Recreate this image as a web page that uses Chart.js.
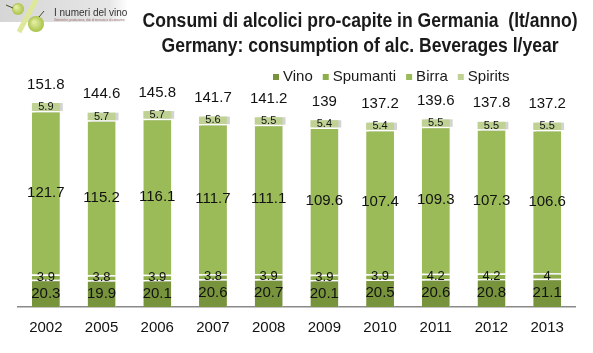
<!DOCTYPE html>
<html>
<head>
<meta charset="utf-8">
<script src="https://cdn.jsdelivr.net/npm/chart.js@4"></script>
<style>
  html, body { margin: 0; padding: 0; background: #fff; }
  #wrap { position: relative; width: 593px; height: 353px; }
</style>
</head>
<body>
<div id="wrap"><canvas id="chart" width="593" height="353"></canvas></div>
<script>
// dati: consumi pro-capite in Germania (lt/anno)
const years = ['2002', '2005', '2006', '2007', '2008', '2009', '2010', '2011', '2012', '2013'];
const vino = [20.3, 19.9, 20.1, 20.6, 20.7, 20.1, 20.5, 20.6, 20.8, 21.1];
const spumanti = [3.9, 3.8, 3.9, 3.8, 3.9, 3.9, 3.9, 4.2, 4.2, 4];
const birra = [121.7, 115.2, 116.1, 111.7, 111.1, 109.6, 107.4, 109.3, 107.3, 106.6];
const spirits = [5.9, 5.7, 5.7, 5.6, 5.5, 5.4, 5.4, 5.5, 5.5, 5.5];
const totali = [151.8, 144.6, 145.8, 141.7, 141.2, 139, 137.2, 139.6, 137.8, 137.2];

const titleLines = ['Consumi di alcolici pro-capite in Germania  (lt/anno)', 'Germany: consumption of alc. Beverages l/year'];
const FONT = '"Liberation Sans", Arial, sans-serif';
const labelSizes = [15, 13, 15, 11];

// logo in alto a sinistra
const logoPlugin = {
    id: 'logo',
    beforeDraw(chart) {
        const ctx = chart.ctx;
        ctx.save();
        const g = ctx.createLinearGradient(0, 0, 128, 0);
        g.addColorStop(0, '#d6d6d6');
        g.addColorStop(0.85, '#e6e6e6');
        g.addColorStop(1, '#ffffff');
        ctx.fillStyle = g;
        ctx.fillRect(0, 0, 128, 22);
        // tratto diagonale
        ctx.strokeStyle = '#dfe89a';
        ctx.lineWidth = 5;
        ctx.beginPath(); ctx.moveTo(37, -2); ctx.lineTo(19, 32); ctx.stroke();
        // acini
        [[18, 9, 6], [36, 24, 8]].forEach(([x, y, r]) => {
            const rg = ctx.createRadialGradient(x - 2, y - 2, 1, x, y, r);
            rg.addColorStop(0, '#e2eda0');
            rg.addColorStop(1, '#a9c24a');
            ctx.fillStyle = rg;
            ctx.beginPath(); ctx.arc(x, y, r, 0, Math.PI * 2); ctx.fill();
        });
        ctx.strokeStyle = '#4a4a2a';
        ctx.lineWidth = 1;
        ctx.beginPath(); ctx.moveTo(6, 5); ctx.lineTo(13, 8); ctx.stroke();
        ctx.beginPath(); ctx.moveTo(39, 17); ctx.lineTo(44, 11); ctx.stroke();
        ctx.fillStyle = '#333';
        ctx.font = '10px ' + FONT;
        ctx.textBaseline = 'alphabetic';
        ctx.fillText('I numeri del vino', 54, 16);
        ctx.fillStyle = '#9a6a6a';
        ctx.font = '3px ' + FONT;
        ctx.fillText('Statistiche, produzione, dati di mercato e di consumo', 54, 21);
        ctx.restore();
    }
};

// titolo (stretto in orizzontale) e legenda
const headerPlugin = {
    id: 'header',
    afterDraw(chart) {
        const ctx = chart.ctx;
        ctx.save();
        ctx.fillStyle = '#1a1a1a';
        ctx.textAlign = 'center';
        ctx.textBaseline = 'middle';
        ctx.font = 'bold 20px ' + FONT;
        const sx = 435 / ctx.measureText(titleLines[0]).width;
        ctx.save();
        ctx.translate(360, 0);
        ctx.scale(sx, 1);
        ctx.fillText(titleLines[0], 0, 21);
        ctx.fillText(titleLines[1], 0, 46);
        ctx.restore();

        // legenda
        ctx.font = '15px ' + FONT;
        ctx.textAlign = 'left';
        let x = 273;
        chart.data.datasets.forEach(ds => {
            ctx.fillStyle = ds.backgroundColor;
            ctx.fillRect(x, 74, 6, 6);
            ctx.fillStyle = '#1a1a1a';
            ctx.fillText(ds.label, x + 10, 77);
            x += 10 + ctx.measureText(ds.label).width + 10;
        });
        ctx.restore();
    }
};

// ombra a destra delle barre
const shadowPlugin = {
    id: 'barShadow',
    beforeDatasetDraw(chart) {
        const ctx = chart.ctx;
        ctx.save();
        ctx.shadowColor = '#d3d3d3';
        ctx.shadowOffsetX = 3;
        ctx.shadowOffsetY = 0;
        ctx.shadowBlur = 0;
    },
    afterDatasetDraw(chart) {
        chart.ctx.restore();
    }
};

// etichette dei valori e totali
const labelsPlugin = {
    id: 'valueLabels',
    afterDatasetsDraw(chart) {
        const ctx = chart.ctx;
        ctx.save();
        ctx.fillStyle = '#111';
        ctx.textAlign = 'center';
        ctx.textBaseline = 'middle';
        chart.data.datasets.forEach((ds, i) => {
            ctx.font = labelSizes[i] + 'px ' + FONT;
            chart.getDatasetMeta(i).data.forEach((bar, j) => {
                const y = (bar.y + bar.base) / 2;
                ctx.fillText(String(ds.data[j]), bar.x, y);
            });
        });
        const yScale = chart.scales.y;
        ctx.font = '15px ' + FONT;
        chart.getDatasetMeta(0).data.forEach((bar, j) => {
            ctx.fillText(String(totali[j]), bar.x, yScale.getPixelForValue(totali[j]) - 18.5);
        });
        ctx.restore();
    }
};

const sep = { top: 1.5, bottom: 0, left: 0, right: 0 };

new Chart(document.getElementById('chart'), {
    type: 'bar',
    data: {
        labels: years,
        datasets: [
            { label: 'Vino', data: vino, backgroundColor: '#77933C', borderColor: '#ffffff', borderWidth: sep },
            { label: 'Spumanti', data: spumanti, backgroundColor: '#8DAE4B', borderColor: '#ffffff', borderWidth: sep },
            { label: 'Birra', data: birra, backgroundColor: '#9BBB59', borderColor: '#ffffff', borderWidth: sep },
            { label: 'Spirits', data: spirits, backgroundColor: '#BFD294', borderWidth: 0 }
        ]
    },
    options: {
        responsive: false,
        animation: false,
        events: [],
        layout: { padding: { left: 18, right: 18, top: 92, bottom: 0 } },
        datasets: { bar: { categoryPercentage: 1, barPercentage: 0.5, borderSkipped: false } },
        plugins: {
            legend: { display: false },
            title: { display: false },
            tooltip: { enabled: false }
        },
        scales: {
            x: {
                stacked: true,
                grid: { display: false, drawTicks: false },
                border: { display: true, color: '#8a8a8a', width: 1.5 },
                ticks: { color: '#111', font: { family: FONT, size: 15 }, padding: 12 },
                afterFit: s => { s.height = 46; }
            },
            y: {
                stacked: true,
                display: false,
                min: 0,
                max: 160
            }
        }
    },
    plugins: [logoPlugin, shadowPlugin, labelsPlugin, headerPlugin]
});
</script>
</body>
</html>
